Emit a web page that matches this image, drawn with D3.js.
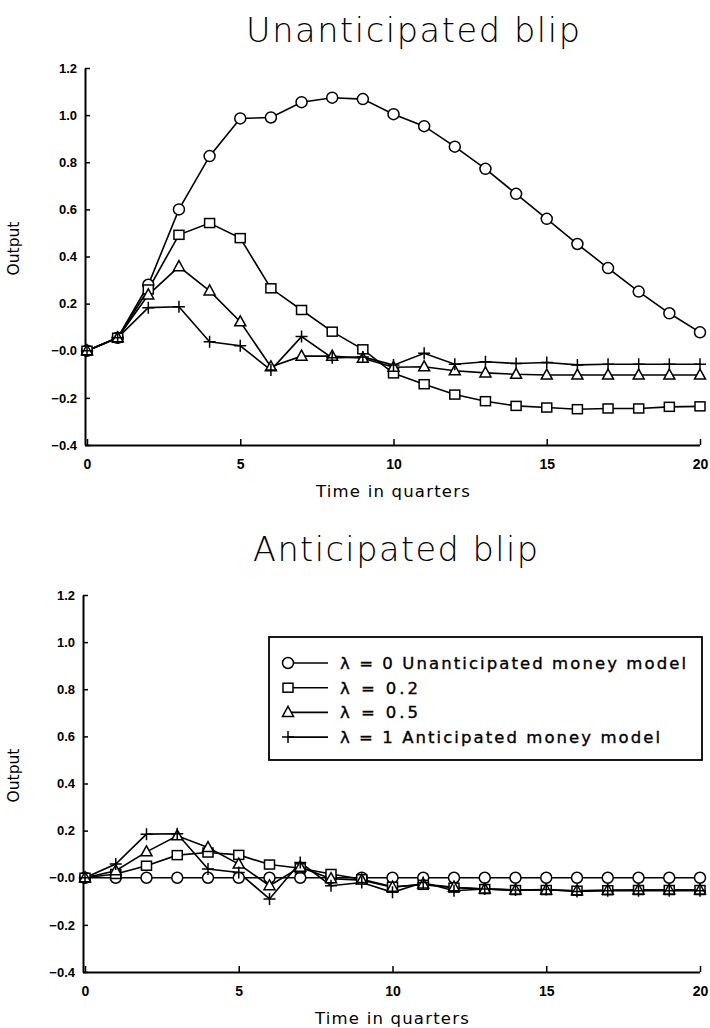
<!DOCTYPE html>
<html>
<head>
<meta charset="utf-8">
<script src="https://cdn.jsdelivr.net/npm/d3@7"></script>
<style>
  body { margin: 0; background: #fff; }
  svg { display: block; }
</style>
</head>
<body>
<svg id="chart" width="710" height="1028"></svg>
<script>
// ---------- data ----------
const quarters = d3.range(0, 21);
const xTicks = [0, 5, 10, 15, 20];
const yTicks = [-0.4, -0.2, 0, 0.2, 0.4, 0.6, 0.8, 1.0, 1.2];

const seriesNames = ["λ = 0 Unanticipated money model", "λ = 0.2", "λ = 0.5", "λ = 1 Anticipated money model"];
const seriesSymbols = ["circle", "square", "triangle", "plus"];

// Unanticipated blip
const unantLambda0  = [0, 0.055, 0.28, 0.60, 0.826, 0.986, 0.99, 1.055, 1.074, 1.068, 1.004, 0.953, 0.866, 0.772, 0.666, 0.560, 0.453, 0.351, 0.251, 0.159, 0.078];
const unantLambda02 = [0, 0.055, 0.26, 0.492, 0.542, 0.478, 0.265, 0.173, 0.081, 0.006, -0.096, -0.142, -0.186, -0.214, -0.234, -0.241, -0.248, -0.245, -0.245, -0.238, -0.236];
const unantLambda05 = [0, 0.055, 0.237, 0.357, 0.254, 0.123, -0.068, -0.023, -0.023, -0.032, -0.07, -0.068, -0.085, -0.094, -0.1, -0.103, -0.103, -0.103, -0.103, -0.103, -0.103];
const unantLambda1  = [0, 0.055, 0.183, 0.187, 0.038, 0.021, -0.082, 0.06, -0.03, -0.026, -0.061, -0.011, -0.057, -0.047, -0.054, -0.05, -0.06, -0.057, -0.057, -0.057, -0.057];

// Anticipated blip
const antLambda0  = [0, 0, 0, 0, 0, 0, 0, 0, 0, 0, 0, 0, 0, 0, 0, 0, 0, 0, 0, 0, 0];
const antLambda02 = [0, 0.016, 0.051, 0.096, 0.107, 0.097, 0.056, 0.04, 0.016, -0.006, -0.038, -0.03, -0.042, -0.048, -0.052, -0.052, -0.055, -0.053, -0.052, -0.052, -0.052];
const antLambda05 = [0, 0.03, 0.11, 0.178, 0.128, 0.058, -0.034, 0.045, -0.004, -0.01, -0.04, -0.027, -0.04, -0.048, -0.052, -0.052, -0.055, -0.053, -0.052, -0.052, -0.052];
const antLambda1  = [0, 0.058, 0.185, 0.187, 0.037, 0.022, -0.09, 0.065, -0.034, -0.02, -0.062, -0.02, -0.055, -0.048, -0.052, -0.05, -0.058, -0.055, -0.055, -0.055, -0.055];

const panels = [
  { title: "Unanticipated blip", series: [unantLambda0, unantLambda02, unantLambda05, unantLambda1],
    x0: 87, x1: 700, yTop: 68, yBot: 445, titleX: 246, titleW: 334, titleY: 42, legend: false },
  { title: "Anticipated blip", series: [antLambda0, antLambda02, antLambda05, antLambda1],
    x0: 85, x1: 700, yTop: 595, yBot: 972, titleX: 253, titleW: 285, titleY: 561, legend: true }
];

// ---------- drawing ----------
const svg = d3.select("#chart");
const fmt = v => (v > 0.0001 ? v.toFixed(1) : "\u2212" + Math.abs(v).toFixed(1));

function drawSymbol(g, type, x, y) {
  if (type === "circle") {
    g.append("circle").attr("cx", x).attr("cy", y).attr("r", 5.5)
      .attr("fill", "#fff").attr("stroke", "#000").attr("stroke-width", 1.5);
  } else if (type === "square") {
    g.append("rect").attr("x", x - 5).attr("y", y - 4.5).attr("width", 10).attr("height", 9)
      .attr("fill", "#fff").attr("stroke", "#000").attr("stroke-width", 1.5);
  } else if (type === "triangle") {
    g.append("path").attr("d", `M${x},${y - 6}L${x + 5.5},${y + 4}L${x - 5.5},${y + 4}Z`)
      .attr("fill", "#fff").attr("stroke", "#000").attr("stroke-width", 1.5);
  } else {
    g.append("path").attr("d", `M${x - 6},${y}H${x + 6}M${x},${y - 6}V${y + 6}`)
      .attr("fill", "none").attr("stroke", "#000").attr("stroke-width", 1.5);
  }
}

const legendWidths = [346, 78, 78, 320];

panels.forEach(p => {
  const x = d3.scaleLinear().domain([0, 20]).range([p.x0, p.x1]);
  const y = d3.scaleLinear().domain([-0.4, 1.2]).range([p.yBot, p.yTop]);
  const g = svg.append("g");

  // title
  g.append("text").attr("x", p.titleX).attr("y", p.titleY)
    .attr("font-family", "DejaVu Sans").attr("font-weight", 200)
    .attr("font-size", 33.5)
    .attr("textLength", p.titleW).attr("lengthAdjust", "spacing")
    .text(p.title);

  // y axis
  const ya = g.append("g").attr("transform", `translate(${p.x0 - 2},0)`)
    .call(d3.axisLeft(y).tickValues(yTicks).tickFormat(fmt).tickSize(-5).tickSizeOuter(0).tickPadding(8));
  ya.select(".domain").attr("stroke-width", 2);
  ya.selectAll(".tick line").attr("stroke-width", 1.5);
  ya.selectAll(".tick text").attr("font-family", "Liberation Sans").attr("font-weight", "bold")
    .attr("font-size", 13);

  // x axis
  const xa = g.append("g").attr("transform", `translate(0,${p.yBot})`)
    .call(d3.axisBottom(x).tickValues(xTicks).tickFormat(d3.format("d")).tickSize(-6).tickSizeOuter(0).tickPadding(11));
  xa.select(".domain").attr("stroke-width", 2).attr("d", `M${p.x0 - 2},0.5H${p.x1}`);
  xa.selectAll(".tick line").attr("stroke-width", 1.5);
  xa.selectAll(".tick text").attr("font-family", "Liberation Sans").attr("font-weight", "bold")
    .attr("font-size", 14).attr("dy", "0.9em");

  // axis titles
  g.append("text").attr("x", (p.x0 + p.x1) / 2).attr("y", p.yBot + 52)
    .attr("text-anchor", "middle").attr("font-family", "DejaVu Sans").attr("font-size", 16.5)
    .attr("letter-spacing", 1.2)
    .text("Time in quarters");
  g.append("text").attr("transform", `translate(19,${(p.yTop + p.yBot) / 2 - 8}) rotate(-90)`)
    .attr("text-anchor", "middle").attr("font-family", "DejaVu Sans").attr("font-size", 15.5)
    .text("Output");

  // series
  const line = d3.line().x((d, i) => x(quarters[i])).y(d => y(d));
  p.series.forEach((vals) => {
    g.append("path").datum(vals).attr("d", line)
      .attr("fill", "none").attr("stroke", "#000").attr("stroke-width", 1.6);
  });
  p.series.forEach((vals, si) => {
    const sg = g.append("g");
    vals.forEach((v, i) => drawSymbol(sg, seriesSymbols[si], x(quarters[i]), y(v)));
  });

  // legend
  if (p.legend) {
    const lg = g.append("g");
    lg.append("rect").attr("x", 269).attr("y", 637).attr("width", 433).attr("height", 123)
      .attr("fill", "#fff").attr("stroke", "#000").attr("stroke-width", 1.8);
    seriesNames.forEach((name, i) => {
      const ly = 663 + i * 24.7;
      lg.append("line").attr("x1", 288).attr("x2", 328).attr("y1", ly).attr("y2", ly)
        .attr("stroke", "#000").attr("stroke-width", 1.6);
      drawSymbol(lg, seriesSymbols[i], 288, ly);
      lg.append("text").attr("x", 340).attr("y", ly + 6)
        .attr("font-family", "DejaVu Sans").attr("font-size", 16.5)
        .attr("stroke", "#000").attr("stroke-width", 0.35)
        .attr("textLength", legendWidths[i]).attr("lengthAdjust", "spacing")
        .text(name);
    });
  }
});
</script>
</body>
</html>
